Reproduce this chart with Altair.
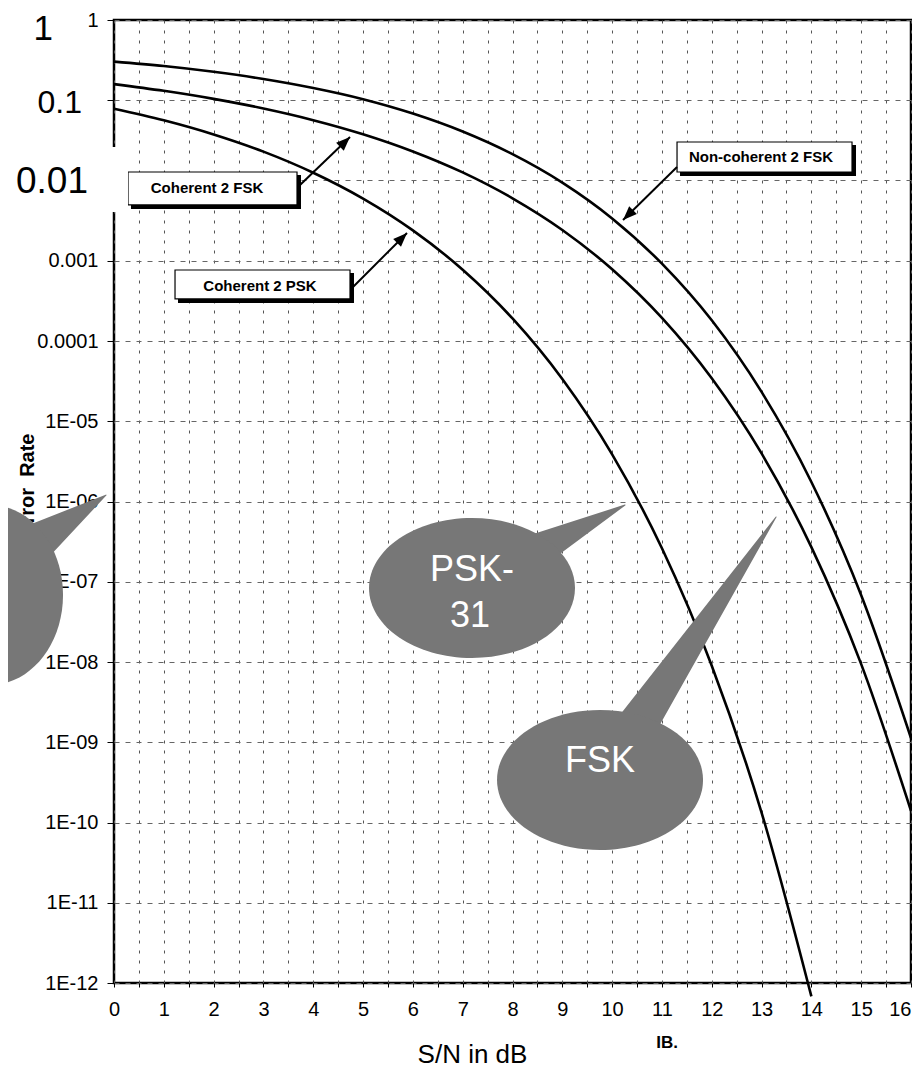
import altair as alt
import pandas as pd

# ---------------- data ----------------
snr_db = list(range(0, 17))
noncoherent_2fsk = [0.303, 0.267, 0.226, 0.184, 0.142, 0.103, 0.0683, 0.0408, 0.0213,
                    0.00942, 0.00337, 9.2e-4, 1.81e-4, 2.32e-5, 1.75e-6, 6.8e-8, 1.13e-9]
coherent_2fsk = [0.159, 0.131, 0.104, 0.0789, 0.0565, 0.0377, 0.0230, 0.0126, 0.0060,
                 0.00242, 7.83e-4, 1.94e-4, 3.43e-5, 3.97e-6, 2.7e-7, 9.4e-9, 1.4e-10]
psk_db = list(range(0, 15))
coherent_2psk = [0.0786, 0.0563, 0.0375, 0.0229, 0.0125, 0.00595, 0.00239, 7.73e-4,
                 1.91e-4, 3.36e-5, 3.87e-6, 2.61e-7, 9.0e-9, 1.33e-10, 6.8e-13]

x_ticks = [i * 0.5 for i in range(33)]
y_ticks = [10.0 ** e for e in range(-12, 1)]
y_tick_labels = ["1E-12", "1E-11", "1E-10", "1E-09", "1E-08", "1E-07", "1E-06",
                 "1E-05", "0.0001", "0.001", "", "", "1"]

# overlay labels (big numbers pasted over the axis)
big_labels = ["1", "0.1", "0.01"]
big_x = [-1.225, -0.642, -0.522]
big_y = [0.563, 0.0694, 0.00698]

# callout boxes
box_labels = ["Coherent 2 FSK", "Coherent 2 PSK", "Non-coherent 2 FSK"]
box_x1 = [0.281, 1.225, 11.303]
box_x2 = [3.674, 4.738, 14.816]
box_y1 = [0.01276, 7.67e-4, 0.0302]
box_y2 = [0.004955, 3.34e-4, 0.01276]
shadow_x1 = [0.341, 1.285, 11.363]
shadow_x2 = [3.754, 4.818, 14.896]
shadow_y1 = [0.01172, 7.04e-4, 0.02767]
shadow_y2 = [0.004415, 2.98e-4, 0.01138]
box_text_x = [1.867, 2.931, 12.989]
box_text_y = [0.00807, 4.84e-4, 0.01935]

# arrows from boxes to curves
arrow_x1 = [3.734, 4.798, 11.303]
arrow_y1 = [0.00879, 4.71e-4, 0.01473]
arrow_x2 = [4.738, 5.882, 10.219]
arrow_y2 = [0.0348, 2.22e-3, 0.00322]
arrow_angle = [316, 315, 135.5]

# speech bubbles
bubble_ids = ["left", "psk", "fsk"]
bubble_cx = [-2.489, 7.187, 9.757]
bubble_cy = [6.84e-8, 8.36e-8, 3.39e-10]
tail_base_x = [-2.036, 8.151, 10.179]
tail_base_y = [1.94e-7, 1.92e-7, 8.24e-10]
tail_base_w = [52, 40, 44]
tail_tip_x = [-0.161, 10.259, 13.291]
tail_tip_y = [1.2e-6, 9.04e-7, 6.41e-7]
bubble_text = ["PSK-", "31", "FSK"]
bubble_text_x = [7.187, 7.147, 9.757]
bubble_text_y = [1.02e-7, 2.73e-8, 4.26e-10]

white_box_x = [-2.4, 0.281]
white_box_y = [0.0261, 0.00405]

# ---------------- tables ----------------
curves = pd.concat([
    pd.DataFrame({"snr": snr_db, "ber": noncoherent_2fsk, "series": "Non-coherent 2 FSK"}),
    pd.DataFrame({"snr": snr_db, "ber": coherent_2fsk, "series": "Coherent 2 FSK"}),
    pd.DataFrame({"snr": psk_db, "ber": coherent_2psk, "series": "Coherent 2 PSK"}),
])
big_df = pd.DataFrame({"t": big_labels, "x": big_x, "y": big_y, "fs": [35, 32, 37]})
box_df = pd.DataFrame({"t": box_labels, "x1": box_x1, "x2": box_x2, "y1": box_y1, "y2": box_y2,
                       "sx1": shadow_x1, "sx2": shadow_x2, "sy1": shadow_y1, "sy2": shadow_y2,
                       "tx": box_text_x, "ty": box_text_y})
arrow_df = pd.DataFrame({"x1": arrow_x1, "y1": arrow_y1, "x2": arrow_x2, "y2": arrow_y2,
                         "ang": arrow_angle})
trail_rows = []
for i, b in enumerate(bubble_ids):
    trail_rows.append({"id": b, "o": 0, "x": tail_base_x[i], "y": tail_base_y[i], "w": tail_base_w[i]})
    trail_rows.append({"id": b, "o": 1, "x": tail_tip_x[i], "y": tail_tip_y[i], "w": 0})
trail_df = pd.DataFrame(trail_rows)
bubble_df = pd.DataFrame({"id": bubble_ids, "x": bubble_cx, "y": bubble_cy})
btext_df = pd.DataFrame({"t": bubble_text, "x": bubble_text_x, "y": bubble_text_y})
white_df = pd.DataFrame({"x1": [white_box_x[0]], "x2": [white_box_x[1]],
                         "y1": [white_box_y[0]], "y2": [white_box_y[1]]})
ib_df = pd.DataFrame({"t": ["IB."], "x": [11.102], "y": [1.55e-13]})

# ---------------- scales & axes ----------------
FONT = "Liberation Sans"
xs = alt.Scale(domain=[0, 16], nice=False, zero=False)
ys = alt.Scale(type="log", domain=[1e-12, 1], nice=False)

label_list = "[" + ",".join("'" + s + "'" for s in y_tick_labels) + "]"
x_axis = alt.Axis(values=x_ticks, labelExpr="datum.value % 1 === 0 ? format(datum.value, 'd') : ''",
                  labelFont=FONT, labelFontSize=20, labelColor="black", labelPadding=12,
                  labelOverlap=False, labelFlush=False, labelBound=False,
                  labelAlign={"condition": {"test": "datum.value === 16", "value": "right"},
                              "value": "center"},
                  tickColor="black", tickSize=4, tickWidth=1,
                  grid=True, gridDash=[3, 7], gridColor="#555", gridWidth=1, domain=False,
                  title="S/N in dB", titleFont=FONT, titleFontSize=26, titleFontWeight="normal",
                  titleColor="black", titleX=358, titleY=79, titleAlign="center",
                  titleBaseline="alphabetic", titleAnchor="start")
y_axis = alt.Axis(values=y_ticks,
                  labelExpr=label_list + "[round(log(datum.value)/LN10)+12]",
                  labelFont=FONT, labelFontSize=20, labelColor="black", labelPadding=9,
                  labelOverlap=False, labelFlush=False, labelBound=False,
                  tickColor="black", tickSize=7, tickWidth=1,
                  grid=True, gridDash=[5, 6], gridColor="#666", gridWidth=1, domain=False,
                  title="Error\u00a0 Rate", titleFont=FONT, titleFontSize=20, titleFontWeight="bold",
                  titleColor="black", titleAngle=270, titleX=-81, titleY=413,
                  titleAlign="right", titleBaseline="alphabetic", titleAnchor="start")


def X(f):
    return alt.X(f, type="quantitative", scale=xs, axis=x_axis)


def Y(f):
    return alt.Y(f, type="quantitative", scale=ys, axis=y_axis)


curves_layer = alt.Chart(curves).mark_line(color="black", strokeWidth=2.6, interpolate="monotone").encode(
    x=X("snr"), y=Y("ber"), detail="series:N",
)

shadow_layer = alt.Chart(box_df).mark_rect(color="black").encode(
    x=X("sx1"), x2="sx2", y=Y("sy1"), y2="sy2")
box_layer = alt.Chart(box_df).mark_rect(fill="white", stroke="black", strokeWidth=1.2).encode(
    x=X("x1"), x2="x2", y=Y("y1"), y2="y2")
box_text_layer = alt.Chart(box_df).mark_text(font=FONT, fontSize=15, fontWeight="bold", color="black",
                                             align="center", baseline="middle").encode(
    x=X("tx"), y=Y("ty"), text="t:N")

arrow_line = alt.Chart(arrow_df).mark_rule(color="black", strokeWidth=2).encode(
    x=X("x1"), x2="x2", y=Y("y1"), y2="y2")
arrow_head = alt.Chart(arrow_df).mark_point(shape="M 0 0 L -14 -5.5 L -14 5.5 Z", size=4, filled=True,
                                            color="black", opacity=1, strokeWidth=0).encode(
    x=X("x2"), y=Y("y2"), angle=alt.Angle("ang:Q", scale=None))

GRAY = "#777777"
trail_layer = alt.Chart(trail_df).mark_trail(color=GRAY, opacity=1).encode(
    x=X("x"), y=Y("y"), size=alt.Size("w:Q", scale=None), detail="id:N", order="o:Q")
ellipse_std = alt.Chart(bubble_df).transform_filter("datum.id !== 'left'").mark_point(
    shape="M -103 0 A 103 70 0 1 0 103 0 A 103 70 0 1 0 -103 0 Z", size=4, filled=True,
    color=GRAY, opacity=1, strokeWidth=0).encode(x=X("x"), y=Y("y"))
ellipse_left = alt.Chart(bubble_df).transform_filter("datum.id === 'left'").mark_point(
    shape="M -73 0 A 73 90 0 1 0 73 0 A 73 90 0 1 0 -73 0 Z", size=4, filled=True,
    color=GRAY, opacity=1, strokeWidth=0).encode(x=X("x"), y=Y("y"))
bubble_text_layer = alt.Chart(btext_df).mark_text(font=FONT, fontSize=36, color="white",
                                                  align="center", baseline="alphabetic").encode(
    x=X("x"), y=Y("y"), text="t:N")

white_layer = alt.Chart(white_df).mark_rect(color="white").encode(
    x=X("x1"), x2="x2", y=Y("y1"), y2="y2")
big_layer = alt.Chart(big_df).mark_text(font=FONT, color="black", align="right",
                                        baseline="alphabetic").encode(
    x=X("x"), y=Y("y"), text="t:N", size=alt.Size("fs:Q", scale=None))
ib_layer = alt.Chart(ib_df).mark_text(font=FONT, fontSize=17, fontWeight="bold", color="black",
                                      align="center", baseline="alphabetic").encode(
    x=X("x"), y=Y("y"), text="t:N")

chart = alt.layer(
    curves_layer, shadow_layer, box_layer, box_text_layer, arrow_line, arrow_head,
    trail_layer, ellipse_std, ellipse_left, bubble_text_layer,
    white_layer, big_layer, ib_layer,
).properties(
    width=797, height=963,
    autosize=alt.AutoSizeParams(type="none"),
    padding={"left": 106, "top": 12, "right": 1, "bottom": 84},
    background="white",
).configure_view(stroke="black", strokeWidth=2.5)

chart.save("out.html", embed_options={"renderer": "svg", "actions": False})
